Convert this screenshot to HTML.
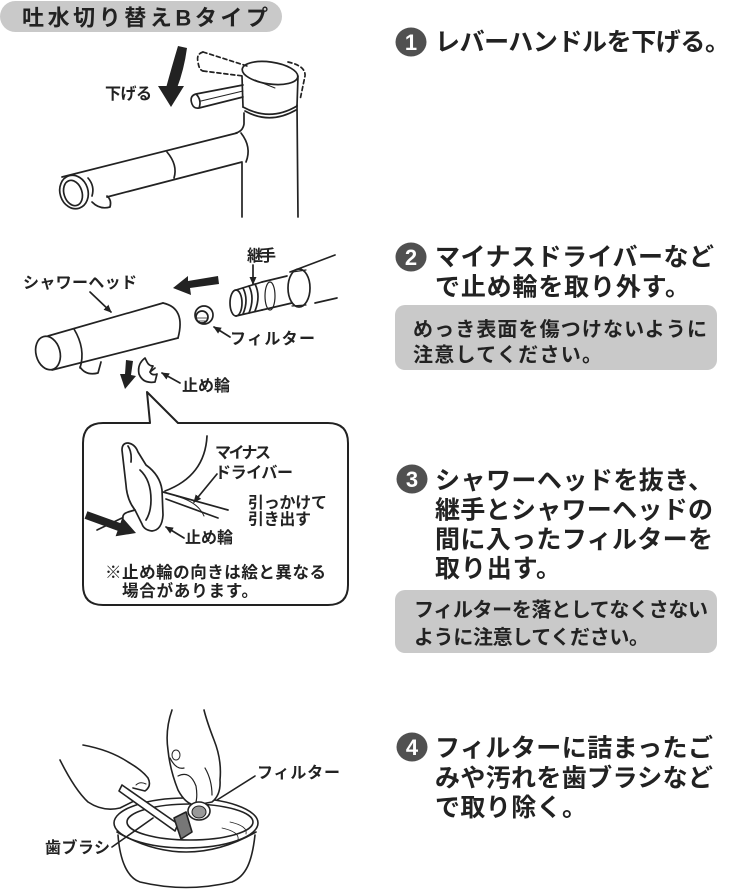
<!DOCTYPE html>
<html><head><meta charset="utf-8"><style>
html,body{margin:0;padding:0;background:#fff;}
svg{display:block;}
text{font-family:"Liberation Sans","Noto Sans CJK JP",sans-serif;fill:#222;}
</style></head><body>
<svg width="734" height="890" viewBox="0 0 734 890" xmlns="http://www.w3.org/2000/svg">
<defs>
<marker id="ah" markerWidth="8" markerHeight="8" refX="7" refY="4" orient="auto" markerUnits="userSpaceOnUse"><path d="M0 0.5 L8 4 L0 7.5 Z" fill="#222"/></marker>
</defs>

<!-- Title pill -->
<rect x="0" y="1" width="282" height="31" rx="15.5" fill="#c9c9c9"/>
<text x="22" y="25.5" font-size="22" font-weight="700" textLength="246" lengthAdjust="spacing">吐水切り替えBタイプ</text>

<!-- ===== Illustration 1: faucet ===== -->
<g fill="none" stroke="#222" stroke-width="1.7" stroke-linecap="round" stroke-linejoin="round">
  <path d="M297 105 L298 217"/>
  <path d="M242 163 L242 217"/>
  <ellipse cx="270" cy="73" rx="28" ry="11" transform="rotate(8 270 73)"/>
  <path d="M242 76 L243 107"/>
  <path d="M298 76 L297 106"/>
  <path d="M243 107 Q270 122 297 106"/>
  <path d="M245 111 Q270 125 296 110"/>
  <path d="M244 113 L244 124 Q243 131 236 133"/>
  <path d="M237 133 L62 177"/>
  <path d="M242 162 L107 197"/>
  <path d="M241 133 Q252 147 246 162"/>
  <path d="M167 152 Q178 165 174 178"/>
  <ellipse cx="74" cy="192" rx="14" ry="17" transform="rotate(-18 74 192)"/>
  <ellipse cx="73" cy="193" rx="9" ry="13" transform="rotate(-18 73 193)"/>
  <path d="M88 178 Q95 186 92 196"/>
  <path d="M92 202 Q100 210 110 207 Q112 200 107 196"/>
  <!-- lever -->
  <path d="M196 94 L243 85 M199 108 L243 97 M196 94 Q189 96 192 104 Q194 109 199 108 M196 94 Q202 100 199 108"/>
  <path d="M201 101 L243 91" stroke-width="1"/>
  <!-- dashed lever & head -->
  <g stroke-dasharray="4 3">
    <path d="M203 52 L247 66 M203 71 L243 76"/>
    <path d="M203 52 Q196 54 198 62 Q199 70 203 71"/>
    <path d="M288 62 Q306 66 305 76 L300 100"/>
  </g>
  <path d="M255 80 L275 88" stroke-width="1"/>
</g>
<path d="M178 46 L187 48 Q184 70 177 88 L166 88 Q172 66 178 46 Z M158 86 L184 86 L171 107 Z" fill="#222"/>
<text x="105" y="99" font-size="16" font-weight="700" textLength="47" lengthAdjust="spacing">下げる</text>

<!-- ===== Step texts ===== -->
<g>
<ellipse cx="411" cy="42" rx="15.5" ry="14.5" fill="#505050"/>
<text x="411" y="50" font-size="22" font-weight="700" text-anchor="middle" style="fill:#fff">1</text>
<text x="435" y="50.5" font-size="25" font-weight="700" textLength="295" lengthAdjust="spacing">レバーハンドルを下げる。</text>

<ellipse cx="411" cy="257" rx="15.5" ry="14.5" fill="#505050"/>
<text x="411" y="265" font-size="22" font-weight="700" text-anchor="middle" style="fill:#fff">2</text>
<text x="435" y="265.5" font-size="25" font-weight="700" textLength="279" lengthAdjust="spacing">マイナスドライバーなど</text>
<text x="435" y="295.5" font-size="25" font-weight="700" textLength="255" lengthAdjust="spacing">で止め輪を取り外す。</text>
<rect x="395" y="305" width="322" height="65" rx="10" fill="#c9c9c9"/>
<text x="413" y="336" font-size="20" font-weight="700" textLength="294" lengthAdjust="spacing">めっき表面を傷つけないように</text>
<text x="413" y="361.5" font-size="20" font-weight="700" textLength="189" lengthAdjust="spacing">注意してください。</text>

<ellipse cx="412" cy="479" rx="15.5" ry="14.5" fill="#505050"/>
<text x="412" y="487" font-size="22" font-weight="700" text-anchor="middle" style="fill:#fff">3</text>
<text x="435" y="489" font-size="25" font-weight="700" textLength="278" lengthAdjust="spacing">シャワーヘッドを抜き、</text>
<text x="435" y="518.5" font-size="25" font-weight="700" textLength="278" lengthAdjust="spacing">継手とシャワーヘッドの</text>
<text x="435" y="548" font-size="25" font-weight="700" textLength="278" lengthAdjust="spacing">間に入ったフィルターを</text>
<text x="435" y="577" font-size="25" font-weight="700" textLength="126" lengthAdjust="spacing">取り出す。</text>
<rect x="395" y="590" width="322" height="63" rx="10" fill="#c9c9c9"/>
<text x="414" y="616.5" font-size="20" font-weight="700" textLength="294" lengthAdjust="spacing">フィルターを落としてなくさない</text>
<text x="414" y="644" font-size="20" font-weight="700" textLength="235" lengthAdjust="spacing">ように注意してください。</text>

<ellipse cx="412" cy="747" rx="15.5" ry="14.5" fill="#505050"/>
<text x="412" y="755" font-size="22" font-weight="700" text-anchor="middle" style="fill:#fff">4</text>
<text x="435" y="756.5" font-size="25" font-weight="700" textLength="278" lengthAdjust="spacing">フィルターに詰まったご</text>
<text x="435" y="786.5" font-size="25" font-weight="700" textLength="278" lengthAdjust="spacing">みや汚れを歯ブラシなど</text>
<text x="435" y="816" font-size="25" font-weight="700" textLength="152" lengthAdjust="spacing">で取り除く。</text>
</g>

<!-- ===== Illustration 2 ===== -->
<g fill="none" stroke="#222" stroke-width="1.7" stroke-linecap="round" stroke-linejoin="round">
  <!-- shower head -->
  <path d="M48 336 L163 303"/>
  <path d="M52 370 L178 338"/>
  <path d="M163 303 Q186 308 178 338"/>
  <ellipse cx="48" cy="353" rx="12" ry="17" transform="rotate(-15 48 353)"/>
  <path d="M74 329 Q86 349 80 368"/>
  <path d="M80 367 Q86 376 98 373 L101 362"/>
  <!-- filter -->
  <ellipse cx="204" cy="315" rx="9" ry="9"/>
  <ellipse cx="202" cy="317" rx="6" ry="6"/>
  <path d="M197 318 L207 318 M198 321 L206 321" stroke-width="0.8"/>
  <!-- joint -->
  <ellipse cx="236" cy="303" rx="6" ry="13"/>
  <path d="M236 290 L262 282 M236 316 L262 310"/>
  <path d="M243 288 Q249 300 243 314 M249 286 Q255 298 249 313 M255 284 Q261 296 255 311"/>
  <path d="M262 282 L287 276 M262 310 L292 303"/>
  <ellipse cx="270" cy="296" rx="5" ry="14" stroke-width="1.2"/>
  <ellipse cx="299" cy="288" rx="11" ry="19"/>
  <path d="M292 272 L306 270 M292 306 L306 305" stroke-width="1.2"/>
  <path d="M290 272 L335 255"/>
  <path d="M315 303 L337 298"/>
  <!-- small clip -->
  <path d="M145 358 Q137 364 139 374 Q143 384 155 382 L157 374 Q152 376 150 372 L153 366 Q149 366 147 362 Z"/>
  <path d="M150 372 L155 368"/>
  <!-- leaders -->
  <path d="M90 292 L111 312" marker-end="url(#ah)"/>
  <path d="M253 265 L253 284" marker-end="url(#ah)"/>
  <path d="M230 337 L214 327" marker-end="url(#ah)"/>
  <path d="M180 383 L162 373" marker-end="url(#ah)"/>
</g>
<polygon points="173,288 188,276 188,281 218,276 219,284 190,288 191,295" fill="#222"/>
<polygon points="126,360 133,361 131,375 136,376 125,389 120,374 125,374" fill="#222"/>
<text x="23" y="288" font-size="16" font-weight="700" textLength="114" lengthAdjust="spacing">シャワーヘッド</text>
<text x="247" y="261" font-size="16" font-weight="700" textLength="29" lengthAdjust="spacing">継手</text>
<text x="230" y="344" font-size="16" font-weight="700" textLength="85" lengthAdjust="spacing">フィルター</text>
<text x="182" y="391" font-size="16" font-weight="700" textLength="48" lengthAdjust="spacing">止め輪</text>

<!-- ===== Callout ===== -->
<path d="M150 423 L103 423 Q83 423 83 443 L83 585 Q83 605 103 605 L328 605 Q348 605 348 585 L348 443 Q348 423 328 423 L178 423 L147 392 Z" fill="#fff" stroke="#222" stroke-width="2" stroke-linejoin="round"/>
<g fill="none" stroke="#222" stroke-width="1.7" stroke-linecap="round" stroke-linejoin="round">
  <path d="M207 436 Q205 476 165 491"/>
  <path d="M163 492 L228 510"/>
  <path d="M166 499 L218 518"/>
  <path d="M176 496 Q198 502 204 516" stroke-width="1"/>
  <path d="M122 450 Q122 443 128 443 Q135 444 138 452 L146 465 Q160 475 162 490 L163 515 Q162 530 152 531 Q144 530 142 524 L135 510 Q127 500 126 485 Z" fill="#fff"/>
  <path d="M140 470 Q151 480 151 500 Q151 512 146 520"/>
  <path d="M128 446 Q132 452 131 462"/>
  <path d="M135 510 L128 512 Q122 514 123 518"/>
  <path d="M97 530 L122 518"/>
  <path d="M217 474 L194 502" marker-end="url(#ah)"/>
  <path d="M184 538 L166 527" marker-end="url(#ah)"/>
</g>
<polygon points="87.4,511.2 120.4,523.1 122.4,517.5 136,533 115.6,536.3 117.6,530.7 84.6,518.8" fill="#222"/>
<text x="215" y="458" font-size="16" font-weight="700" textLength="56" lengthAdjust="spacing">マイナス</text>
<text x="215" y="478" font-size="16" font-weight="700" textLength="78" lengthAdjust="spacing">ドライバー</text>
<text x="248" y="508" font-size="16" font-weight="700" textLength="79" lengthAdjust="spacing">引っかけて</text>
<text x="248" y="524.5" font-size="16" font-weight="700" textLength="63" lengthAdjust="spacing">引き出す</text>
<text x="185" y="543" font-size="16" font-weight="700" textLength="48" lengthAdjust="spacing">止め輪</text>
<text x="105" y="578" font-size="16.5" font-weight="700" textLength="221" lengthAdjust="spacing">※止め輪の向きは絵と異なる</text>
<text x="122" y="596.5" font-size="16.5" font-weight="700" textLength="136" lengthAdjust="spacing">場合があります。</text>

<!-- ===== Illustration 4: bowl ===== -->
<g fill="none" stroke="#222" stroke-width="1.6" stroke-linecap="round" stroke-linejoin="round">
  <path d="M118 835 C120 862 128 878 140 882 Q186 893 232 882 C246 876 252 862 255 835" fill="#fff"/>
  <ellipse cx="186" cy="823" rx="72" ry="25" fill="#fff"/>
  <path d="M117 832 Q186 872 256 832"/>
  <ellipse cx="190" cy="822" rx="63" ry="18"/>
  <path d="M222 828 Q240 832 238 840 M230 822 Q248 826 246 834" stroke-width="0.8"/>
  <!-- left arm & hand -->
  <path d="M60 760 Q75 790 88 802 Q103 812 120 808 L140 798 M83 745 Q110 750 128 762 Q142 770 148 778 Q152 786 145 791 L133 788" fill="#fff"/>
  <path d="M136 785 Q140 781 146 784" stroke-width="1"/>
  <!-- toothbrush -->
  <path d="M122 785 L178 824 L175 831 L119 791 Z" fill="#fff"/>
  <path d="M174 818 L186 812 L192 832 L181 839 Z" fill="#777"/>
  <!-- right hand -->
  <path d="M172 710 Q165 730 168 750 Q170 770 178 790 Q186 805 196 805 L212 802 Q221 795 220 780 Q222 760 214 740 Q207 722 204 710" fill="#fff"/>
  <path d="M170 758 Q176 770 184 768 M178 776 Q190 770 196 786 Q198 798 195 805 M205 768 Q212 780 212 795" stroke-width="1.2"/>
  <ellipse cx="176" cy="755" rx="4" ry="5" stroke-width="1"/>
  <ellipse cx="199" cy="811" rx="11" ry="9" fill="#fff"/>
  <ellipse cx="199" cy="812" rx="7" ry="6" fill="#999" stroke-width="1"/>
  <path d="M255 776 L217 800"/>
  <path d="M112 847 L153 818"/>
</g>
<text x="257" y="778" font-size="16" font-weight="700" textLength="83" lengthAdjust="spacing">フィルター</text>
<text x="45" y="853" font-size="16" font-weight="700" textLength="65" lengthAdjust="spacing">歯ブラシ</text>
</svg>
</body></html>
